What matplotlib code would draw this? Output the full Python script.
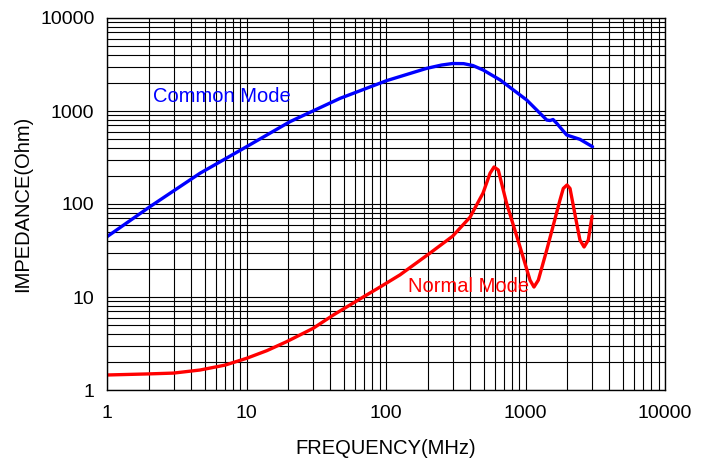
import matplotlib
matplotlib.use('Agg')
import matplotlib.pyplot as plt
from matplotlib.ticker import LogLocator, FixedLocator, NullFormatter

plt.rcParams['font.family'] = ['Liberation Sans', 'DejaVu Sans']

# Common mode impedance
cm_freq = [1, 2.03, 4.64, 10, 20.5, 46.8, 101, 195, 250, 300, 360, 420, 497,
           660, 1020, 1420, 1500, 1575, 1675, 1973, 2456, 3024]
cm_imp = [44.5, 93.5, 214, 413, 768, 1367, 2120, 2870, 3120, 3240, 3230, 3080,
          2760, 2150, 1313, 800, 790, 810, 737, 552, 496, 413]

# Normal mode impedance
nm_freq = [1, 2, 3, 4.64, 7, 10, 14, 19.4, 30, 41.9, 72.5, 90.6, 126, 207, 300,
           400, 496, 557, 595, 638, 693, 733, 913, 1077, 1150, 1236, 1420,
           1766, 1866, 1983, 2085, 2327, 2456, 2630, 2820, 3000]
nm_imp = [1.45, 1.49, 1.52, 1.64, 1.85, 2.19, 2.65, 3.31, 4.6, 6.4, 10.5, 12.8,
          17.3, 29.7, 45, 72, 131, 214, 250, 232, 141, 101, 34.7, 15.2, 12.8,
          15.2, 32, 110, 147, 160, 147, 62, 41, 34.5, 41, 74]

fig = plt.figure(figsize=(7.11, 4.61), dpi=100)
ax = fig.add_axes([107 / 711, 71 / 461, 558 / 711, 372 / 461])

ax.plot(cm_freq, cm_imp, color='#0000ff', linewidth=2.4,
        solid_capstyle='round', solid_joinstyle='round')
ax.plot(nm_freq, nm_imp, color='#ff0000', linewidth=2.4,
        solid_capstyle='round', solid_joinstyle='round')

ax.set_xscale('log')
ax.set_yscale('log')
ax.set_xlim(1, 10000)
ax.set_ylim(1, 10000)

ax.xaxis.set_major_locator(FixedLocator([1, 10, 100, 1000, 10000]))
ax.yaxis.set_major_locator(FixedLocator([1, 10, 100, 1000, 10000]))
ax.set_xticklabels(['1', '10', '100', '1000', '10000'])
ax.set_yticklabels(['1', '10', '100', '1000', '10000'])
ax.xaxis.set_minor_locator(LogLocator(base=10, subs=range(2, 10), numticks=20))
ax.yaxis.set_minor_locator(LogLocator(base=10, subs=range(2, 10), numticks=20))
ax.xaxis.set_minor_formatter(NullFormatter())
ax.yaxis.set_minor_formatter(NullFormatter())

ax.grid(True, which='both', color='black', linewidth=0.8)
ax.set_axisbelow(True)
ax.tick_params(which='both', length=0, labelsize=14)
ax.tick_params(axis='x', pad=11)
ax.tick_params(axis='y', pad=9)
for s in ax.spines.values():
    s.set_linewidth(1.0)

ax.set_xlabel('FREQUENCY(MHz)', fontsize=14.5, labelpad=12)
ax.set_ylabel('IMPEDANCE(Ohm)', fontsize=14.5, labelpad=6)

ax.text(153 / 711, 1 - 96 / 461, 'Common Mode', transform=fig.transFigure,
        color='#0000ff', fontsize=14.5, ha='left', va='center')
ax.text(408 / 711, 1 - 286 / 461, 'Normal Mode', transform=fig.transFigure,
        color='#ff0000', fontsize=14.5, ha='left', va='center')

fig.savefig('out.png', dpi=100)
